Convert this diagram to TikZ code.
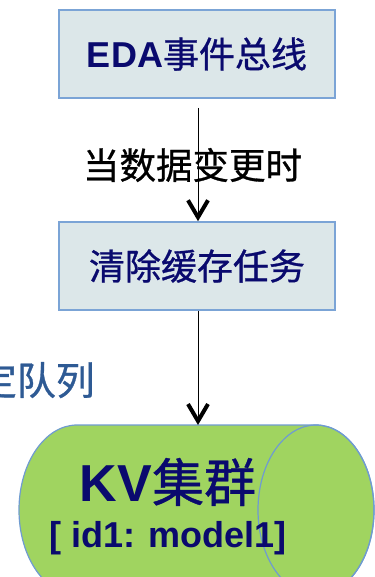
\documentclass[tikz,border=0pt]{standalone}
\usepackage{fontspec}
\setmainfont{Liberation Sans}
\newfontfamily\cjk[FakeBold=0.8]{Noto Sans CJK SC}
\usetikzlibrary{arrows.meta}
\definecolor{boxfill}{HTML}{DCE7E9}
\definecolor{boxline}{HTML}{7BA4D6}
\definecolor{cylfill}{HTML}{A0D460}
\definecolor{cylline}{HTML}{6F9BD1}
\definecolor{navy}{HTML}{0A0A6E}
\definecolor{qblue}{HTML}{2E5A94}
\tikzset{
  taskbox/.style={draw=boxline, fill=boxfill, line width=1.6pt, minimum width=276pt, minimum height=88pt, inner sep=0pt, text=navy, font=\fontsize{36}{40}\selectfont},
  flow/.style={line width=1pt, -{Straight Barb[length=17pt,width=20pt,line width=4pt]}},
  plain/.style={inner sep=0pt}
}
\begin{document}
\begin{tikzpicture}[x=1pt,y=1pt]
\useasboundingbox (0,0) rectangle (374,-577);
% boxes
\node[taskbox] (eda) at (197,-54) {{\bfseries EDA}{\cjk 事件总线}};
\node[taskbox] (task) at (197,-266) {\cjk 清除缓存任务};
% cylinder
\path[fill=cylfill, draw=cylline, line width=1.2pt]
  (316,-425) -- (77,-425)
  arc[start angle=90, end angle=270, x radius=58, y radius=85]
  -- (316,-595)
  arc[start angle=-90, end angle=90, x radius=58, y radius=85] -- cycle;
\draw[cylline, line width=1.2pt] (316,-510) ellipse[x radius=58, y radius=85];
\coordinate (kvtop) at (198,-425);
\node[plain, text=navy, font=\fontsize{52}{56}\selectfont] (kv) at (168,-482) {{\bfseries KV}{\cjk 集群}};
\node[plain, text=navy, font=\bfseries\fontsize{36}{40}\selectfont] (kvid) at (168,-538) {[ id1: model1]};
% label left
\node[plain, anchor=east, text=qblue, font=\cjk\fontsize{39}{42}\selectfont] (queue) at (95,-380) {定队列};
% connectors
\draw[flow, shorten <=9pt] ([xshift=1pt]eda.south) -- ([xshift=1pt]task.north);
\node[plain, font=\cjk\fontsize{36.5}{40}\selectfont] (when) at (192.5,-165) {当数据变更时};
\draw[flow] ([xshift=1pt]task.south) -- (kvtop);
\end{tikzpicture}
\end{document}
